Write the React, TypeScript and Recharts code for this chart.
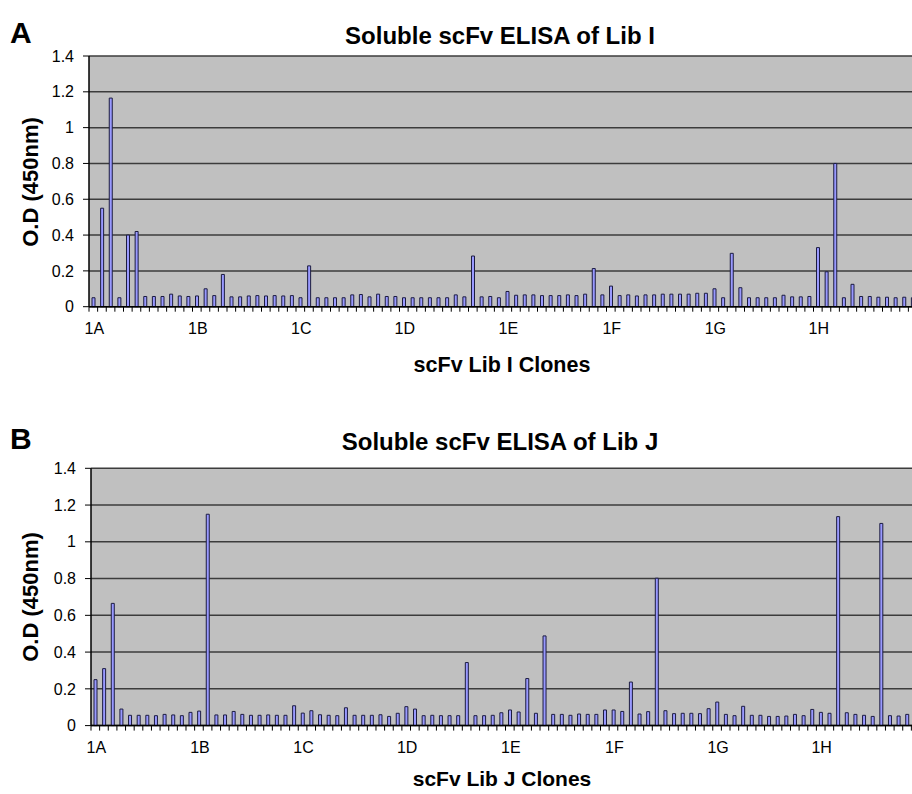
import { Bar, BarChart, CartesianGrid, XAxis, YAxis } from 'recharts'

const rows = ['1A', '1B', '1C', '1D', '1E', '1F', '1G', '1H']
const clones = rows.flatMap((r) => Array.from({ length: 12 }, (_, i) => `${r}${i + 1}`))
const yTicks = [0, 0.2, 0.4, 0.6, 0.8, 1, 1.2, 1.4]

// O.D (450nm) per clone (1A..1H, 12 wells each)
const libI = [
  0.05, 0.55, 1.165, 0.05, 0.4, 0.42, 0.057, 0.057, 0.057, 0.07, 0.06, 0.057,
  0.06, 0.1, 0.062, 0.18, 0.055, 0.055, 0.06, 0.062, 0.06, 0.062, 0.06, 0.062,
  0.05, 0.228, 0.05, 0.05, 0.05, 0.05, 0.066, 0.068, 0.055, 0.07, 0.057, 0.057,
  0.05, 0.05, 0.05, 0.05, 0.05, 0.05, 0.066, 0.055, 0.283, 0.055, 0.057, 0.05,
  0.085, 0.064, 0.066, 0.066, 0.062, 0.062, 0.062, 0.066, 0.062, 0.07, 0.213, 0.066,
  0.115, 0.062, 0.066, 0.06, 0.066, 0.066, 0.07, 0.07, 0.07, 0.07, 0.075, 0.075,
  0.1, 0.05, 0.298, 0.106, 0.05, 0.05, 0.05, 0.05, 0.064, 0.055, 0.055, 0.057,
  0.33, 0.195, 0.8, 0.05, 0.125, 0.057, 0.057, 0.053, 0.053, 0.05, 0.053, 0.05,
]

const libJ = [
  0.25, 0.31, 0.665, 0.09, 0.056, 0.056, 0.056, 0.054, 0.061, 0.058, 0.054, 0.072,
  0.079, 1.15, 0.058, 0.058, 0.077, 0.061, 0.056, 0.056, 0.058, 0.056, 0.056, 0.108,
  0.068, 0.081, 0.059, 0.056, 0.054, 0.097, 0.056, 0.056, 0.056, 0.059, 0.05, 0.067,
  0.103, 0.09, 0.054, 0.056, 0.054, 0.054, 0.054, 0.343, 0.054, 0.054, 0.056, 0.07,
  0.085, 0.074, 0.256, 0.067, 0.488, 0.061, 0.061, 0.056, 0.063, 0.061, 0.061, 0.085,
  0.085, 0.077, 0.237, 0.063, 0.076, 0.802, 0.081, 0.065, 0.067, 0.067, 0.065, 0.092,
  0.128, 0.061, 0.054, 0.105, 0.056, 0.056, 0.05, 0.05, 0.052, 0.061, 0.054, 0.088,
  0.072, 0.067, 1.137, 0.07, 0.061, 0.056, 0.05, 1.1, 0.054, 0.052, 0.061, 0.06,
]

const dataI = clones.map((clone, i) => ({ clone, od: libI[i] }))
const dataJ = clones.map((clone, i) => ({ clone, od: libJ[i] }))

const FONT = 'Arial, "Liberation Sans", Helvetica, sans-serif'

// tick mark between wells, row label under the first well of each row
function CloneTick(props: any) {
  const { x, y, payload, index } = props
  const edge = x - payload.offset
  return (
    <g>
      <line x1={edge} x2={edge} y1={y} y2={y + 5} stroke="#000" strokeWidth={1} />
      {index % 12 === 0 && (
        <text x={x + 1} y={y + 27} textAnchor="middle" fontSize={16} fill="#000">
          {String(payload.value).replace(/\d+$/, '')}
        </text>
      )}
    </g>
  )
}

type PanelProps = {
  data: { clone: string; od: number }[]
  top: number
  width: number
  height: number
  marginTop: number
  axisWidth: number
  xAxisHeight: number
}

function Panel({ data, top, width, height, marginTop, axisWidth, xAxisHeight }: PanelProps) {
  return (
    <div style={{ position: 'absolute', left: 0, top }}>
      <BarChart
        width={width}
        height={height}
        data={data}
        margin={{ top: marginTop, right: 13, bottom: 0, left: 0 }}
        barCategoryGap={0}
      >
        <CartesianGrid vertical={false} stroke="#3c3c3c" strokeWidth={1.5} fill="#c0c0c0" fillOpacity={1} />
        <XAxis
          dataKey="clone"
          interval={0}
          height={xAxisHeight}
          tickLine={false}
          tickSize={0}
          tickMargin={0}
          axisLine={{ stroke: '#000', strokeWidth: 1.5 }}
          tick={<CloneTick />}
        />
        <YAxis
          type="number"
          domain={[0, 1.4]}
          ticks={yTicks}
          interval={0}
          width={axisWidth}
          tickSize={6}
          tickMargin={9}
          axisLine={{ stroke: '#000', strokeWidth: 1.5 }}
          tickLine={{ stroke: '#000' }}
          tick={{ fontSize: 16, fill: '#000' }}
        />
        <Bar dataKey="od" fill="#9999ff" stroke="#1c1c40" strokeWidth={1} barSize={3} isAnimationActive={false} />
      </BarChart>
    </div>
  )
}

export default function App() {
  return (
    <div
      style={{
        position: 'fixed',
        left: 0,
        top: 0,
        width: 912,
        height: 794,
        overflow: 'hidden',
        background: '#fff',
        fontFamily: FONT,
      }}
    >
      <Panel data={dataI} top={0} width={930} height={400} marginTop={56} axisWidth={89} xAxisHeight={93.3} />
      <Panel data={dataJ} top={412} width={933} height={382} marginTop={56.3} axisWidth={91} xAxisHeight={68.4} />
      <svg
        width={912}
        height={794}
        style={{ position: 'absolute', left: 0, top: 0, pointerEvents: 'none' }}
        fontFamily={FONT}
        fontWeight="bold"
        fill="#000"
      >
        <text x={10} y={43} fontSize={30}>A</text>
        <text x={500} y={44} fontSize={24} textAnchor="middle">Soluble scFv ELISA of Lib I</text>
        <text x={502} y={372} fontSize={21.5} textAnchor="middle">scFv Lib I Clones</text>
        <text x={30} y={182} fontSize={22} textAnchor="middle" dominantBaseline="central" transform="rotate(-90 30 182)">
          O.D (450nm)
        </text>
        <text x={10} y={449} fontSize={30}>B</text>
        <text x={500} y={450} fontSize={24} textAnchor="middle">Soluble scFv ELISA of Lib J</text>
        <text x={502} y={786} fontSize={21} textAnchor="middle">scFv Lib J Clones</text>
        <text x={30} y={597} fontSize={22} textAnchor="middle" dominantBaseline="central" transform="rotate(-90 30 597)">
          O.D (450nm)
        </text>
      </svg>
    </div>
  )
}
